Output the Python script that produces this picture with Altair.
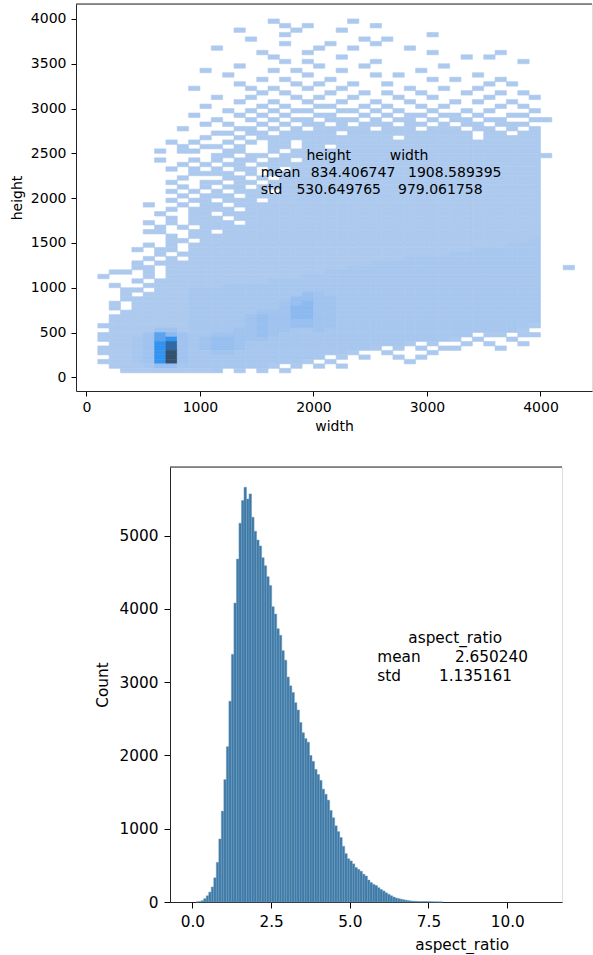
import altair as alt
import pandas as pd

FONT = "DejaVu Sans"

# ---------------- data: 2-D histogram (width vs height) ----------------
WIDTH_BIN_START = 100
WIDTH_BIN_SIZE = 100
HEIGHT_BIN_TOP = 3950
HEIGHT_BIN_SIZE = 50
# one string per height bin (first = 3950-4000), one char per width bin
# '.' = empty, '1'..'9' = count level (light -> dark)
HW_GRID = [
    "..........|.....1....|..1.......|..........|..",
    "..........|......1.1.|....1.....|..........|..",
    "..........|..1....1..|.1........|..........|..",
    "..........|......1...|.........1|..........|..",
    "..........|...1......|...1.1....|..........|..",
    "..........|......1...|1...1.....|..........|..",
    "..........|1........1|..1....1..|..........|..",
    "..........|....1...1.|.........1|.....1....|..",
    "..........|.....1....|.1........|..1.1.....|..",
    "..........|......1.1.|....1.....|.......1..|..",
    "..........|..1......1|...1......|1.........|..",
    ".........1|.....1.1..|.1......1.|..........|..",
    "..........|.1......1.|....1.1...|...1......|..",
    "..........|....1.1...|1........1|.1...1....|..",
    "..........|..1....1.1|..1..1....|....1.1...|..",
    "........1.|...1.1..1.|.1.....1..|1..1......|..",
    "..........|....1.1...|1..1.1..1.|..1..1.1..|..",
    "..........|1..1...1.1|..1...1..1|....1...1.|..",
    "..........|..1..1..1.|.1..1..1..|.1.1..1...|..",
    ".........1|....1.1..1|1..1.1..1.|1....1.1..|..",
    "..........|.1.1.1.11.|.11.1.1..1|..1.1...1.|..",
    "........1.|..1.1.1..1|1..1.1.11.|11.1..11..|..",
    "..........|1..1.1.11.|111.1.11.1|.11.11..11|..",
    ".........1|.1..1.1.11|.1.111.11.|1.11.111..|..",
    ".......1..|..11.1.1.1|1111.111.1|11.11.1.1.|..",
    "..........|11.11.1111|1.11111111|111.11.11.|..",
    ".........1|..1.111111|111111.111|111.11111.|..",
    "......1.1.|.1.1.11.11|1111111111|111111111.|..",
    ".......1.1|1.1..11.11|.111111111|111111111.|..",
    ".....1.11.|.11..1.111|1111111111|111111111.|..",
    "..........|11.11.1111|1111111111|1111111111|..",
    ".....1..1.|1.11.11.11|1111111111|111111111.|..",
    ".......1.1|.11.111111|1111111111|111111111.|..",
    "......1.1.|1.11.1.111|1111111111|111111111.|..",
    "........11|11.1.11111|1111111111|111111111.|..",
    ".......1..|.11.1.1111|1111111111|111111111.|..",
    "......1..1|1.11.11111|1111111111|111111111.|..",
    ".......1.1|.11.111111|1111111111|111111111.|..",
    "......1.1.|1.111.1111|1111111111|111111111.|..",
    ".......1.1|11.1111111|1111111111|111111111.|..",
    "......1.11|.111.11111|1111111111|111111111.|..",
    "....1..1.1|1.11111111|1111111111|111111111.|..",
    "......1.11|11.1111111|1111111111|111111111.|..",
    ".....1..11|.111111111|1111111111|111111111.|..",
    "......1.11|1.11111111|1111111111|111111111.|..",
    "....1.1.11|11.1111111|1111111111|111111111.|..",
    ".....1.1.1|1111111111|1111111111|111111111.|..",
    "....11..11|.111111111|1111111111|111111111.|..",
    "......1.11|1111111111|1111111111|111111111.|..",
    "......11.1|1111111111|1111111111|111111112.|..",
    "....1.1.11|1111111111|1111111111|111111222.|..",
    "...1.11.11|1111111111|1111111111|111222222.|..",
    ".....1.111|1111111111|1111111111|122222222.|..",
    "....1.1.11|1111111111|1111111222|222222222.|..",
    "...1.11111|1111111111|1111222222|222222222.|..",
    "...11.1111|1111111111|1122222222|222222222.|.1",
    ".11.1.1111|1111111111|2222222222|222222222.|..",
    "1...1.1111|1111111122|2222222222|222222222.|..",
    "...1.11111|1111122222|2222222222|222222222.|..",
    ".1..111111|1222222222|2222222222|222222222.|..",
    "..11.11122|2222222222|2222222222|222222222.|..",
    "..1.111122|2222222243|2222222222|222222222.|..",
    "..11111122|2222222443|3222222222|222222222.|..",
    ".1.1111122|2222223453|3222222222|222222222.|..",
    ".1.1111122|2222223553|3222222222|222222222.|..",
    "..11111122|2222333553|3222222222|222222222.|..",
    ".111111122|2223433553|3222222222|222222222.|..",
    ".111111122|2223433443|3222222222|222222222.|..",
    "1111111122|2223433443|3222222222|222222221.|..",
    ".111133122|2233433223|2222222222|22222221..|..",
    "1111365322|3333432222|2222222222|222.11.11.|..",
    "1112367323|4433322222|2222222222|21.1..1...|..",
    ".112378323|4432222222|22222221.1|..1.1..1..|..",
    "1112378323|4432222222|22221.1.1.|11...1....|..",
    "1112379322|3322222222|221..1...1|..........|..",
    ".112379322|2222222222|.1.1..1.1.|..........|..",
    "1112379322|222222221.|1......1..|..........|..",
    ".111244222|222221.1.1|.1........|..........|..",
    "..11111111|2.1.1.1...|..........|..........|..",
    "..........|..........|..........|..........|..",
]
LEVELS = [1, 2, 3, 4, 5, 6, 7, 8, 9]
LEVEL_COLORS = ["#adcaee", "#a8c7ef", "#a0c3ef", "#97bff0", "#8cb9f0",
                "#5aa3f0", "#3393f0", "#2f6aa5", "#34506c"]

STAT_NAMES = ["mean", "std"]
HEIGHT_STATS = [834.406747, 530.649765]
WIDTH_STATS = [1908.589395, 979.061758]
ASPECT_STATS = [2.650240, 1.135161]

# ---------------- data: aspect ratio histogram ----------------
ASPECT_BIN_START = 0.12
ASPECT_BIN_SIZE = 0.08
ASPECT_COUNTS = [
    2, 6, 18, 45, 85, 135, 205, 330, 540, 860,
    1240, 1670, 2120, 2740, 3380, 4080, 4680, 5170, 5480, 5660,
    5500, 5570, 5250, 5060, 4940, 4860, 4700, 4590, 4440, 4320,
    4030, 3930, 3730, 3640, 3430, 3300, 3070, 2950, 2860, 2720,
    2620, 2450, 2310, 2230, 2180, 2000, 1920, 1810, 1740, 1660,
    1540, 1470, 1390, 1250, 1150, 1040, 960, 880, 760, 660,
    590, 560, 520, 470, 445, 420, 380, 355, 300, 265,
    240, 225, 195, 170, 150, 125, 105, 85, 68, 55,
    45, 38, 30, 24, 18, 14, 11, 9, 7, 6,
    8, 7, 5, 3, 2, 2, 1, 1,
]

# ---------------- tables ----------------
cells = []
for r, row in enumerate(HW_GRID):
    row = row.replace("|", "")
    h0 = HEIGHT_BIN_TOP - r * HEIGHT_BIN_SIZE
    for c, ch in enumerate(row):
        if ch != ".":
            w0 = WIDTH_BIN_START + c * WIDTH_BIN_SIZE
            cells.append({"w0": w0, "w1": w0 + WIDTH_BIN_SIZE,
                          "h0": h0, "h1": h0 + HEIGHT_BIN_SIZE,
                          "level": int(ch)})
cells_df = pd.DataFrame(cells)

hist_df = pd.DataFrame({
    "a0": [ASPECT_BIN_START + i * ASPECT_BIN_SIZE for i in range(len(ASPECT_COUNTS))],
    "a1": [ASPECT_BIN_START + (i + 1) * ASPECT_BIN_SIZE for i in range(len(ASPECT_COUNTS))],
    "count": ASPECT_COUNTS,
})

one = pd.DataFrame({"k": [0]})


def label(txt, px, py, size):
    return alt.Chart(one).mark_text(
        text=txt, align="left", baseline="middle", font=FONT, fontSize=size, color="#000"
    ).encode(x=alt.value(px), y=alt.value(py))


def axis(values, title, size, tick, lpad, tpad, fmt="d", **kw):
    opts = dict(values=values, title=title, grid=False, labelFont=FONT, labelFontSize=size,
                labelColor="#000", titleFont=FONT, titleFontSize=size, titleFontWeight="normal",
                titleColor="#000", tickColor="#000", tickSize=tick, tickWidth=1,
                domainColor="#262626", domainWidth=1, labelPadding=lpad, titlePadding=tpad,
                labelFlush=False, labelOverlap=False, format=fmt)
    opts.update(kw)
    return alt.Axis(**opts)


# ---------------- top: 2-D histogram ----------------
TOP_W, TOP_H = 516, 387
color_scale = alt.Scale(domain=LEVELS, range=LEVEL_COLORS)
heat = alt.Chart(cells_df).mark_rect(strokeWidth=0.6).encode(
    x=alt.X("w0:Q", scale=alt.Scale(domain=[-92, 4454], nice=False, zero=False),
            axis=axis([0, 1000, 2000, 3000, 4000], "width", 14, 5, 4, 5)),
    x2="w1:Q",
    y=alt.Y("h0:Q", scale=alt.Scale(domain=[-153, 4167], nice=False, zero=False),
            axis=axis(list(range(0, 4001, 500)), "height", 14, 5, 5, 6)),
    y2="h1:Q",
    color=alt.Color("level:O", scale=color_scale, legend=None),
    stroke=alt.Stroke("level:O", scale=color_scale, legend=None),
)
top_spine = alt.Chart(one).mark_rule(color="#262626", strokeWidth=1).encode(
    x=alt.value(0), x2=alt.value(TOP_W), y=alt.value(0))

fmt6 = lambda v: f"{v:.6f}"
top_text = [
    label("height", 230.4, 151.7, 14),
    label("width", 313.7, 151.7, 14),
    label(STAT_NAMES[0], 184.7, 168.7, 14),
    label(fmt6(HEIGHT_STATS[0]), 234.7, 168.7, 14),
    label(fmt6(WIDTH_STATS[0]), 332.0, 168.7, 14),
    label(STAT_NAMES[1], 184.7, 185.7, 14),
    label(fmt6(HEIGHT_STATS[1]), 220.4, 185.7, 14),
    label(fmt6(WIDTH_STATS[1]), 322.0, 185.7, 14),
]
top = alt.layer(heat, top_spine, *top_text).properties(width=TOP_W, height=TOP_H)

# ---------------- bottom: aspect ratio histogram ----------------
BOT_W, BOT_H = 392, 435
bars = alt.Chart(hist_df).mark_rect(fill="#3f79a5", stroke="#6c9cc2", strokeWidth=0.5).encode(
    x=alt.X("a0:Q", scale=alt.Scale(domain=[-0.71, 11.74], nice=False, zero=False),
            axis=axis([0, 2.5, 5, 7.5, 10], "aspect_ratio", 15.3, 6, 6, 8, fmt=".1f",
                      titleX=291.7)),
    x2="a1:Q",
    y=alt.Y("count:Q", scale=alt.Scale(domain=[0, 5937], nice=False, zero=False),
            axis=axis([0, 1000, 2000, 3000, 4000, 5000], "Count", 15.3, 6, 6, 9)),
    y2=alt.datum(0),
)
bot_spine = alt.Chart(one).mark_rule(color="#262626", strokeWidth=1).encode(
    x=alt.value(0), x2=alt.value(BOT_W), y=alt.value(0))
bot_text = [
    label("aspect_ratio", 238.3, 171.0, 15.3),
    label(STAT_NAMES[0], 207.3, 190.0, 15.3),
    label(fmt6(ASPECT_STATS[0]), 285.0, 190.0, 15.3),
    label(STAT_NAMES[1], 207.3, 208.7, 15.3),
    label(fmt6(ASPECT_STATS[1]), 269.0, 208.7, 15.3),
]
bottom = alt.layer(bars, bot_spine, *bot_text).properties(width=BOT_W, height=BOT_H)

spacer = alt.Chart(one).mark_point(size=0, opacity=0).encode(
    x=alt.value(0), y=alt.value(0)
).properties(width=17, height=1, view=alt.ViewBackground(stroke="transparent", fill="transparent"))

chart = alt.vconcat(
    top,
    alt.hconcat(spacer, bottom, spacing=0),
    spacing=32,
).properties(
    padding={"left": 9, "top": 3, "right": 0, "bottom": 0}
).configure_view(stroke="transparent").configure(background="white")

chart.save("out.html", embed_options={"renderer": "svg", "actions": False})
